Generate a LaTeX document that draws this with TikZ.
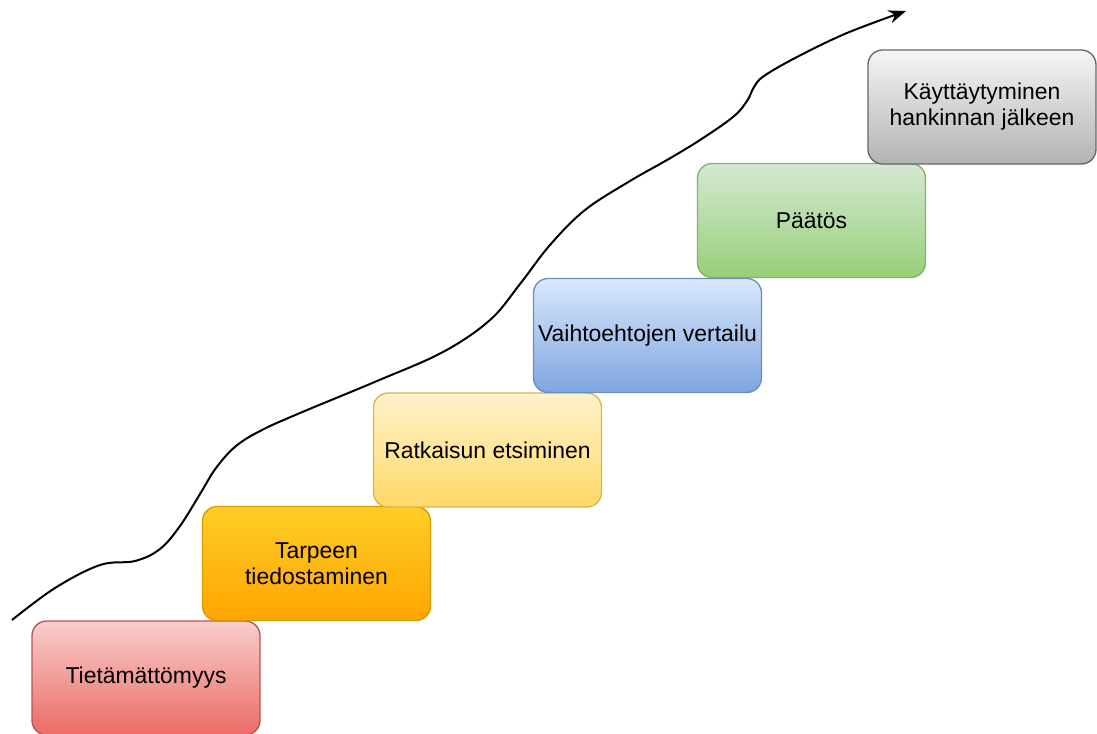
\documentclass[tikz,border=0pt]{standalone}
\usepackage{fontspec}
\setmainfont{Liberation Sans}
\usetikzlibrary{arrows.meta}
\definecolor{redT}{HTML}{F8CECC}\definecolor{redB}{HTML}{EA6B66}\definecolor{redS}{HTML}{B85450}
\definecolor{orT}{HTML}{FFCD28}\definecolor{orB}{HTML}{FFA500}\definecolor{orS}{HTML}{D79B00}
\definecolor{yeT}{HTML}{FFF2CC}\definecolor{yeB}{HTML}{FFD966}\definecolor{yeS}{HTML}{D6B656}
\definecolor{blT}{HTML}{DAE8FC}\definecolor{blB}{HTML}{7EA6E0}\definecolor{blS}{HTML}{6C8EBF}
\definecolor{grT}{HTML}{D5E8D4}\definecolor{grB}{HTML}{97D077}\definecolor{grS}{HTML}{82B366}
\definecolor{gyT}{HTML}{F5F5F5}\definecolor{gyB}{HTML}{B3B3B3}\definecolor{gyS}{HTML}{666666}
\tikzset{
  stepbox/.style={rounded corners=11pt, minimum width=171pt, minimum height=85.5pt,
    inner sep=0pt, align=center, line width=1pt,
    font=\fontsize{17.2}{19.5}\selectfont, text=black},
  redbox/.style={stepbox, draw=redS, top color=redT, bottom color=redB},
  orbox/.style={stepbox, draw=orS, top color=orT, bottom color=orB},
  yebox/.style={stepbox, draw=yeS, top color=yeT, bottom color=yeB},
  blbox/.style={stepbox, draw=blS, top color=blT, bottom color=blB},
  grbox/.style={stepbox, draw=grS, top color=grT, bottom color=grB},
  gybox/.style={stepbox, draw=gyS, top color=gyT, bottom color=gyB},
  curve/.style={line width=1.5pt, -{Stealth[length=13pt,width=10pt]}}
}
\begin{document}
\begin{tikzpicture}[x=0.75pt,y=-0.75pt]
\useasboundingbox (0,0) rectangle (1097,733);
\begin{scope}
\clip (0,0) rectangle (1097,733);
\node[redbox] (n1) at (146,678) {Tietämättömyys};
\node[orbox] (n2) at (316.5,563.5) {Tarpeen\\tiedostaminen};
\node[yebox] (n3) at (487.5,450) {Ratkaisun etsiminen};
\node[blbox] (n4) at (647.5,335.5) {Vaihtoehtojen vertailu};
\node[grbox] (n5) at (811.5,220.5) {Päätös};
\node[gybox] (n6) at (982,107) {Käyttäytyminen\\hankinnan jälkeen};
\end{scope}
\coordinate (cs) at (12,620);
\coordinate (ce) at (906,11);
\draw[curve] plot[smooth, tension=0.6] coordinates {(cs) (55,588) (100,565) (135,561) (160,549) (180,526) (200,494) (216,468) (236,446) (262,430) (300,413) (377,381) (443,352) (490,320) (520,284) (550,245) (585,210) (630,181) (667,160) (700,140) (733,117) (747,101) (754,87) (764,76) (797,57) (847,33) (ce)};
\end{tikzpicture}
\end{document}
